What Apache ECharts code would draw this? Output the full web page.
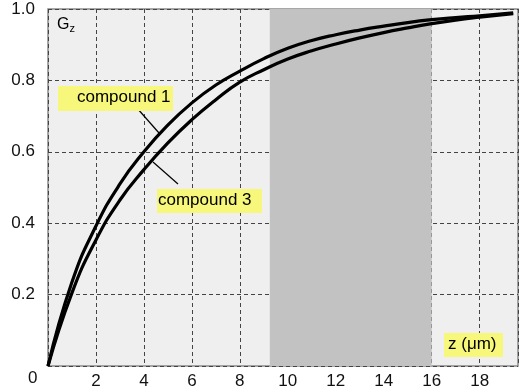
<!DOCTYPE html>
<html>
<head>
<meta charset="utf-8">
<script src="https://cdn.jsdelivr.net/npm/echarts@6/dist/echarts.min.js"></script>
<style>
  html, body { margin: 0; padding: 0; background: #fff; }
  #main { width: 523px; height: 392px; }
</style>
</head>
<body>
<div id="main"></div>
<script>
// z in micrometres, G_z values
var zValues = [0, 1, 2, 3, 4, 5, 6, 7, 8, 9, 10, 11, 12, 13, 14, 15, 16, 17, 18, 19.4];
var compound1 = [0, 0.235, 0.392, 0.51, 0.60, 0.675, 0.737, 0.787, 0.826, 0.861, 0.89, 0.912, 0.928, 0.941, 0.952, 0.962, 0.97, 0.976, 0.981, 0.989];
var compound3 = [0, 0.205, 0.353, 0.465, 0.55, 0.625, 0.69, 0.746, 0.795, 0.83, 0.86, 0.883, 0.902, 0.919, 0.934, 0.947, 0.959, 0.969, 0.977, 0.987];
var shadedRange = [9.25, 16];
var yTicks = ['0.2', '0.4', '0.6', '0.8', '1.0'];

function pairs(xs, ys) {
    return xs.map(function (x, i) { return [x, ys[i]]; });
}

var chart = echarts.init(document.getElementById('main'));
var yellow = '#f7f77b';
var font = 'Liberation Sans, Arial, sans-serif';

var option = {
    animation: false,
    grid: {
        left: 48, right: 5, top: 9, bottom: 26,
        show: true,
        backgroundColor: '#efefef',
        borderColor: '#8a8a8a',
        borderWidth: 1.5
    },
    xAxis: {
        type: 'value',
        min: 0, max: 19.6, interval: 2,
        axisLine: { show: false },
        axisTick: { show: false },
        axisLabel: {
            margin: 7,
            fontSize: 17, color: '#111', fontFamily: font,
            formatter: function (v) { return (v === 0 || v > 19) ? '' : v; }
        },
        splitLine: { show: true, lineStyle: { color: '#444', type: [4, 3], width: 1 } }
    },
    yAxis: {
        type: 'value',
        min: 0, max: 1, interval: 0.2,
        axisLine: { show: false },
        axisTick: { show: false },
        axisLabel: {
            margin: 13,
            fontSize: 17, color: '#111', fontFamily: font,
            padding: [4, 0, 0, 0],
            formatter: function (v) {
                var s = v.toFixed(1);
                return yTicks.indexOf(s) >= 0 ? s : '';
            }
        },
        splitLine: { show: true, lineStyle: { color: '#444', type: [4, 3], width: 1 } }
    },
    series: [
        {
            name: 'compound 1',
            type: 'line',
            data: pairs(zValues, compound1),
            smooth: 0.5,
            showSymbol: false,
            lineStyle: { color: '#000', width: 3.2 },
            z: 3,
            markArea: {
                silent: true,
                itemStyle: { color: '#c2c2c2' },
                data: [[{ xAxis: shadedRange[0] }, { xAxis: shadedRange[1] }]]
            }
        },
        {
            name: 'compound 3',
            type: 'line',
            data: pairs(zValues, compound3),
            smooth: 0.5,
            showSymbol: false,
            lineStyle: { color: '#000', width: 3.2 },
            z: 3
        }
    ],
    graphic: [
        { type: 'line', shape: { x1: 137, y1: 108, x2: 159, y2: 133 }, style: { stroke: '#000', lineWidth: 1.2 }, z: 10 },
        { type: 'line', shape: { x1: 153, y1: 162, x2: 178, y2: 184 }, style: { stroke: '#000', lineWidth: 1.2 }, z: 10 },
        { type: 'rect', shape: { x: 58, y: 86, width: 115, height: 25 }, style: { fill: yellow }, z: 10 },
        { type: 'text', left: 77, top: 89, style: { text: 'compound 1', font: '17px ' + font, fill: '#000' }, z: 11 },
        { type: 'rect', shape: { x: 157, y: 189, width: 105, height: 24 }, style: { fill: yellow }, z: 10 },
        { type: 'text', left: 158, top: 192, style: { text: 'compound 3', font: '17px ' + font, fill: '#000' }, z: 11 },
        { type: 'rect', shape: { x: 444, y: 333, width: 59, height: 24 }, style: { fill: yellow }, z: 10 },
        { type: 'text', left: 448, top: 336, style: { text: 'z (μm)', font: '17px ' + font, fill: '#000' }, z: 11 },
        {
            type: 'text', left: 57, top: 17, z: 11,
            style: {
                text: '{g|G}{s|z}',
                rich: {
                    g: { fontSize: 16, fontFamily: font, fill: '#000' },
                    s: { fontSize: 11, fontFamily: font, fill: '#000', padding: [8, 0, 0, 0] }
                }
            }
        },
        { type: 'text', left: 28, top: 370, style: { text: '0', font: '17px ' + font, fill: '#111' }, z: 11 }
    ]
};
chart.setOption(option);
</script>
</body>
</html>
